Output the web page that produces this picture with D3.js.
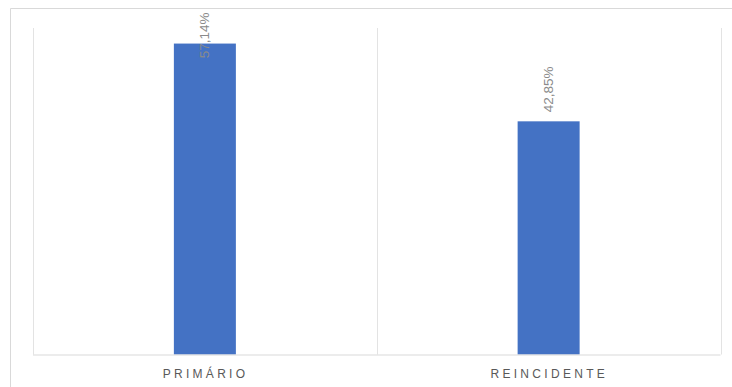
<!DOCTYPE html>
<html>
<head>
<meta charset="utf-8">
<script src="https://cdn.jsdelivr.net/npm/d3@7"></script>
<style>
  html, body { margin: 0; padding: 0; background: #fff; }
  svg { display: block; }
</style>
</head>
<body>
<svg id="chart" width="732" height="387"></svg>
<script>
// Share of cases by type
const categories = ["PRIMÁRIO", "REINCIDENTE"];
const values = [57.14, 42.85];
const valueLabels = ["57,14%", "42,85%"];
const yDomain = [0, 60];

const W = 732, H = 387;
const frame = { x: 10.5, y: 8.5 };
const plot = { left: 33, right: 720.5, top: 28, bottom: 354.5 };

const svg = d3.select("#chart");

// outer chart frame (runs off the right and bottom edges)
svg.append("path")
  .attr("d", `M${frame.x},${H + 2}V${frame.y}H${W + 2}`)
  .attr("fill", "none")
  .attr("stroke", "#d9d9d9")
  .attr("stroke-width", 1);

const x = d3.scaleBand()
  .domain(categories)
  .range([plot.left, plot.right])
  .paddingInner(0)
  .paddingOuter(0);

const y = d3.scaleLinear().domain(yDomain).range([plot.bottom, plot.top]);

// vertical gridlines at category boundaries
const bounds = categories.map(c => x(c)).concat([x(categories[categories.length - 1]) + x.bandwidth()]);
svg.append("g").selectAll("line")
  .data(bounds)
  .join("line")
  .attr("x1", d => Math.round(d) + 0.5)
  .attr("x2", d => Math.round(d) + 0.5)
  .attr("y1", plot.top)
  .attr("y2", plot.bottom)
  .attr("stroke", "#e3e3e3")
  .attr("stroke-width", 1);

// bars
const barW = 62;
svg.append("g").selectAll("rect")
  .data(values)
  .join("rect")
  .attr("x", (d, i) => x(categories[i]) + x.bandwidth() / 2 - barW / 2)
  .attr("y", d => y(d))
  .attr("width", barW)
  .attr("height", d => y(0) - y(d))
  .attr("fill", "#4472c4");

// baseline
svg.append("line")
  .attr("x1", plot.left)
  .attr("x2", plot.right)
  .attr("y1", plot.bottom + 0.5)
  .attr("y2", plot.bottom + 0.5)
  .attr("stroke", "#d9d9d9");

// rotated value labels, pushed down when they would leave the frame
const fontFam = "'Liberation Sans', Arial, sans-serif";
const labelG = svg.append("g");
values.forEach((v, i) => {
  const cx = x(categories[i]) + x.bandwidth() / 2;
  const t = labelG.append("text")
    .text(valueLabels[i])
    .attr("font-family", fontFam)
    .attr("font-size", 13.5)
    .attr("fill", "#8a8a8a")
    .attr("text-anchor", "start")
    .attr("dominant-baseline", "central");
  const len = t.node().getComputedTextLength();
  const end = Math.max(y(v) - 9, frame.y + 4 + len);
  t.attr("transform", `translate(${cx},${end}) rotate(-90)`);
});

// category axis labels
const ls = 3.3;
svg.append("g").selectAll("text")
  .data(categories)
  .join("text")
  .attr("x", d => x(d) + x.bandwidth() / 2 + ls / 2 - 1)
  .attr("y", 378)
  .attr("text-anchor", "middle")
  .attr("font-family", fontFam)
  .attr("font-size", 12)
  .attr("letter-spacing", ls)
  .attr("fill", "#595959")
  .text(d => d);
</script>
</body>
</html>
